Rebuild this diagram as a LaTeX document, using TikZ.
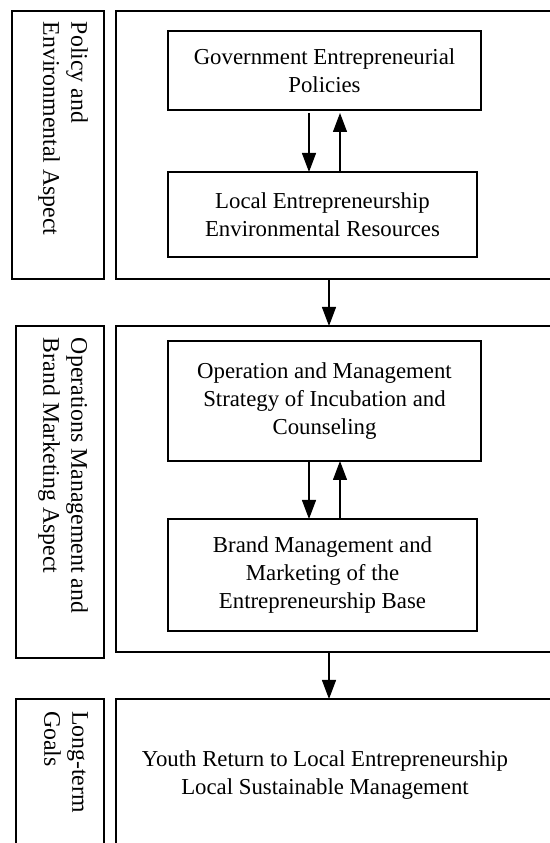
\documentclass[tikz,border=0pt]{standalone}
\usepackage{fontspec}
\setmainfont{Liberation Serif}
\usetikzlibrary{arrows.meta}

\begin{document}
\begin{tikzpicture}[x=1pt,y=1pt,
  box/.style={draw=drawColor,line width=0.6pt,inner sep=0pt,outer sep=0pt,align=center,
    font=\fontsize{11.4}{14}\selectfont},
  aspect/.style={text=drawColor,rotate=-90,anchor=north west,align=left,inner sep=0pt,
    outer sep=0pt,font=\fontsize{11.9}{14}\selectfont},
  flow/.style={draw=drawColor,line width=0.6pt,-{Triangle[width=7pt,length=9.5pt]}}]
\definecolor{fillColor}{RGB}{255,255,255}
\definecolor{drawColor}{RGB}{0,0,0}
\path[use as bounding box,fill=fillColor] (0,0) rectangle (275,421.5);
\begin{scope}
\path[clip] (0,0) rectangle (275,421.5);

\node[box,minimum width=46,minimum height=134] (polside) at (29,349) {};

\node[box,minimum width=44,minimum height=166] (opsside) at (30,175.5) {};

\node[box,minimum width=44,minimum height=82] (goalside) at (30,31) {};

\node[aspect] (poltext) at (44,410.5) {Policy and\\Environmental Aspect};

\node[aspect] (opstext) at (44,252.5) {Operations Management and\\Brand Marketing Aspect};

\node[aspect] (goaltext) at (44,66) {Long-term\\Goals};

\node[box,minimum width=232,minimum height=134] (polframe) at (174,349) {};

\node[box,minimum width=232,minimum height=163] (opsframe) at (174,177) {};

\node[box,minimum width=232,minimum height=82] (goalframe) at (174,31) {};

\node[box,minimum width=156.5,minimum height=39.5] (gov) at (162.25,386.25)
  {Government Entrepreneurial\\Policies};

\node[box,minimum width=154.5,minimum height=42.5] (env) at (161.25,314.25)
  {Local Entrepreneurship\\Environmental Resources};

\node[box,minimum width=156.5,minimum height=60] (incub) at (162.25,221)
  {Operation and Management\\Strategy of Incubation and\\Counseling};

\node[box,minimum width=154.5,minimum height=56] (brand) at (161.25,134)
  {Brand Management and\\Marketing of the\\Entrepreneurship Base};

\node[text=drawColor,align=center,inner sep=0pt,outer sep=0pt,
  font=\fontsize{11.4}{14}\selectfont] (goal) at (162.5,33.75)
  {Youth Return to Local Entrepreneurship\\Local Sustainable Management};

\coordinate (spine) at (164.5,0);
\coordinate (down) at (154.5,0);
\coordinate (up) at (170,0);

\draw[flow,shorten <=1.5pt] (gov.south -| down) -- (env.north -| down);
\draw[flow,shorten >=1.5pt] (env.north -| up) -- (gov.south -| up);
\draw[flow] (incub.south -| down) -- (brand.north -| down);
\draw[flow] (brand.north -| up) -- (incub.south -| up);

\draw[flow] (polframe.south -| spine) -- (opsframe.north -| spine);
\draw[flow] (opsframe.south -| spine) -- (goalframe.north -| spine);
\end{scope}
\end{tikzpicture}
\end{document}
